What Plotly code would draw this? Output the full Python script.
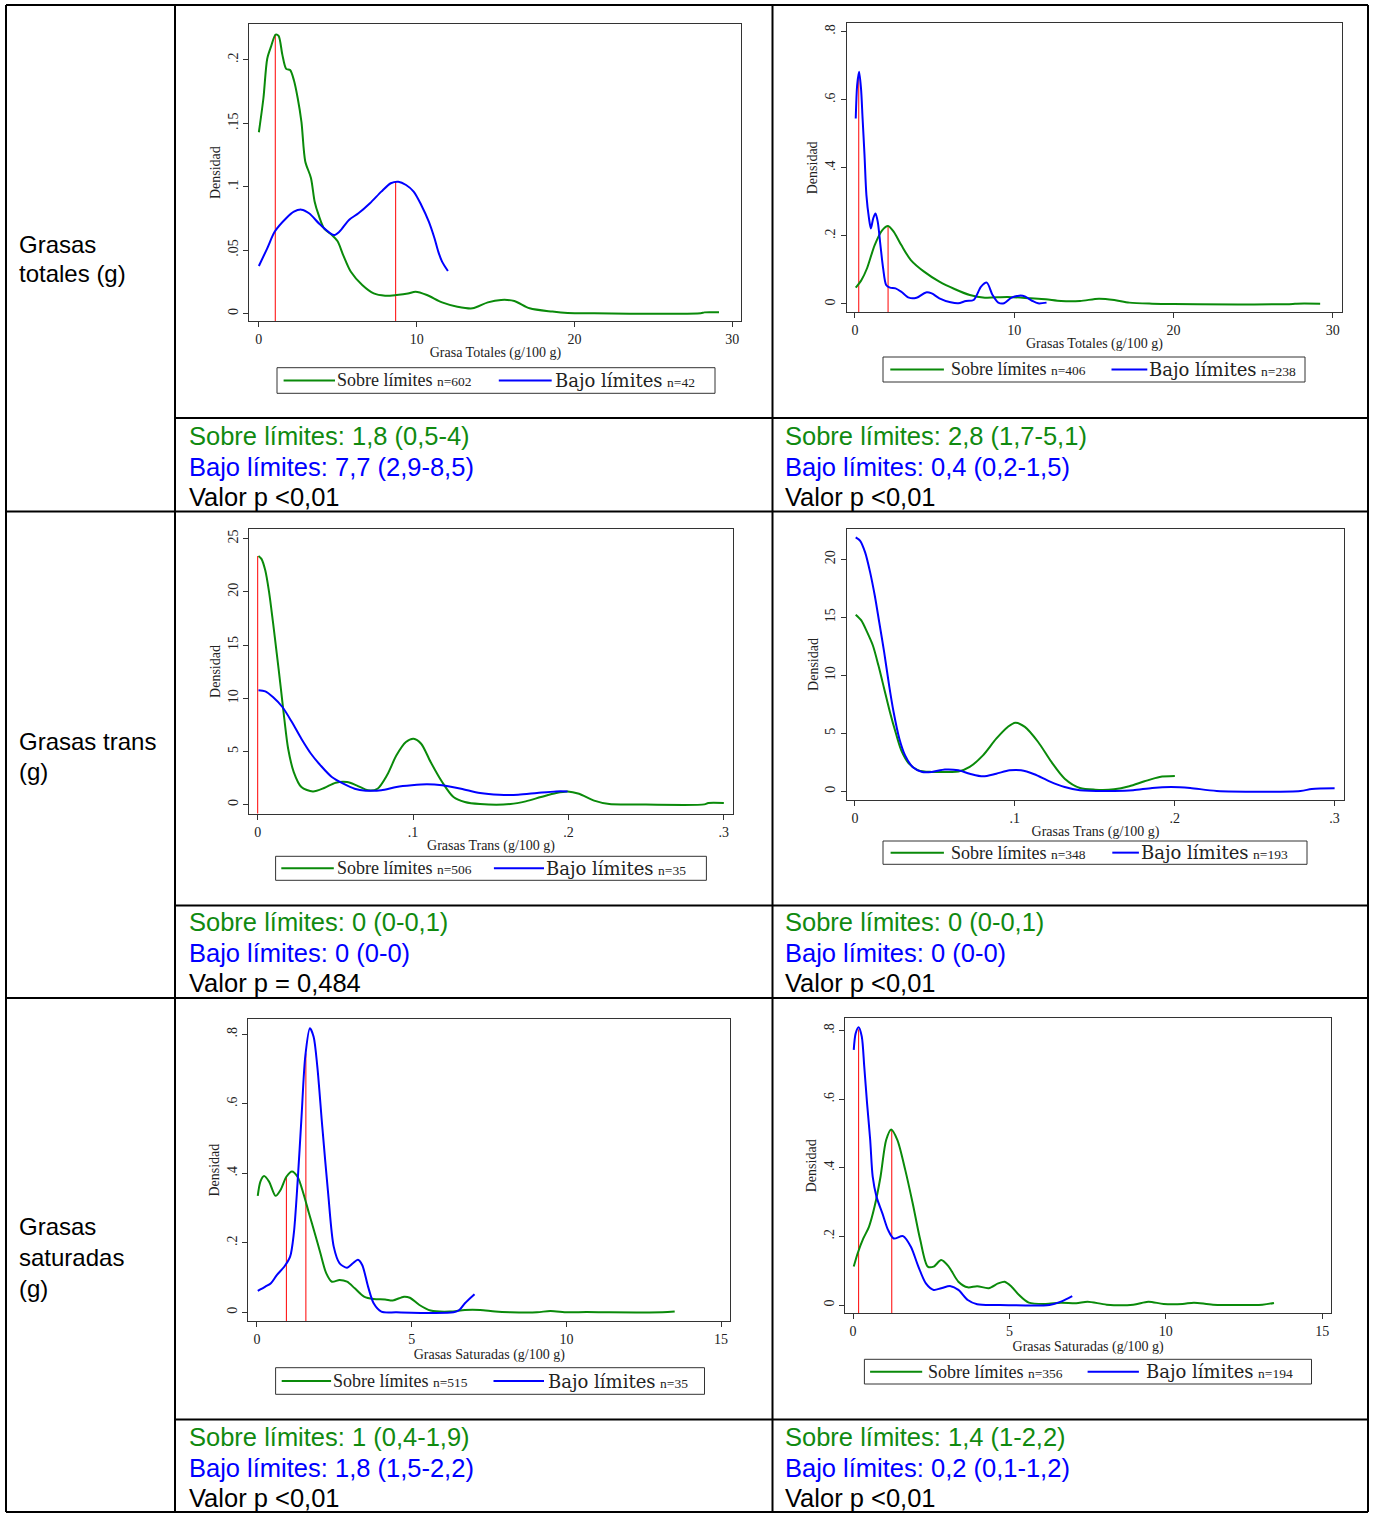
import plotly.graph_objects as go

W, H = 1374, 1514

# ---------------- DATA ----------------
# Panel 1: Grasas totales (left)
p1_sobre_x = [0, 0.29, 0.53, 0.77, 1.06, 1.25, 1.49, 1.73, 1.98, 2.22, 2.46, 2.70, 2.94, 3.30, 3.54, 3.78, 4.14, 4.63, 4.99, 5.35, 5.83, 6.55, 7.28, 8.0, 8.72, 9.45, 9.93, 10.65, 11.61, 12.58, 13.54, 14.51, 15.35, 16.19, 17.16, 18.60, 19.57, 21.25, 28.0, 28.24, 29.16]
p1_sobre_y = [0.143, 0.170, 0.201, 0.2105, 0.220, 0.219, 0.204, 0.193, 0.192, 0.184, 0.170, 0.151, 0.120, 0.107, 0.088, 0.078, 0.067, 0.062, 0.057, 0.046, 0.033, 0.0226, 0.016, 0.0142, 0.0147, 0.0158, 0.0173, 0.0147, 0.0089, 0.0055, 0.0042, 0.0089, 0.0108, 0.0100, 0.0042, 0.0016, 0.0005, 0.0003, 0.0003, 0.001, 0.001]
p1_bajo_x = [0, 0.53, 1.01, 1.73, 2.22, 2.70, 3.18, 3.90, 4.75, 5.11, 5.71, 6.31, 7.04, 7.76, 8.36, 8.84, 9.33, 9.81, 10.29, 10.77, 11.13, 11.37, 11.61, 11.98]
p1_bajo_y = [0.0376, 0.0515, 0.0647, 0.0752, 0.0804, 0.082, 0.0791, 0.070, 0.062, 0.0647, 0.0739, 0.0791, 0.087, 0.0962, 0.1028, 0.104, 0.1014, 0.0962, 0.0857, 0.0725, 0.0594, 0.0489, 0.041, 0.0336]
p1_ref_x = [1.04, 8.67]
p1_ref_top = [0.220, 0.104]

# Panel 2: Grasas totales (right)
p2_sobre_x = [0.05, 0.41, 0.76, 1.24, 1.72, 2.08, 2.43, 2.91, 3.51, 4.34, 5.30, 6.25, 7.21, 8.16, 9.59, 11.03, 11.98, 12.94, 14.13, 15.32, 16.28, 17.23, 18.66, 19.98, 27.5, 27.73, 29.21]
p2_sobre_y = [0.048, 0.0705, 0.105, 0.173, 0.217, 0.229, 0.2125, 0.173, 0.129, 0.095, 0.0656, 0.044, 0.0264, 0.0186, 0.0206, 0.0166, 0.0137, 0.0088, 0.0088, 0.0157, 0.0118, 0.004, 0.001, 0.0, 0.0, 0.001, 0.001]
p2_bajo_x = [0.05, 0.14, 0.26, 0.38, 0.48, 0.60, 0.72, 0.88, 1.0, 1.15, 1.29, 1.43, 1.60, 1.77, 1.96, 2.20, 2.55, 2.91, 3.39, 3.87, 4.46, 4.82, 5.30, 6.01, 6.49, 6.97, 7.45, 7.92, 8.28, 8.64, 9.0, 9.36, 9.83, 10.31, 10.67, 11.15, 11.50, 12.03]
p2_bajo_y = [0.545, 0.643, 0.682, 0.634, 0.545, 0.438, 0.320, 0.252, 0.222, 0.252, 0.266, 0.242, 0.173, 0.105, 0.056, 0.048, 0.046, 0.036, 0.0186, 0.0186, 0.034, 0.031, 0.0166, 0.0049, 0.002, 0.0088, 0.0118, 0.051, 0.0627, 0.0264, 0.004, 0.002, 0.0186, 0.0245, 0.0225, 0.0088, 0.002, 0.004]
p2_ref_x = [0.24, 2.08]
p2_ref_top = [0.668, 0.227]

# Panel 3: Grasas trans (left)
p3_sobre_x = [0.0005, 0.0024, 0.0049, 0.0073, 0.0098, 0.0122, 0.0147, 0.0171, 0.0196, 0.0232, 0.0281, 0.0355, 0.0428, 0.0502, 0.0575, 0.0636, 0.0710, 0.0771, 0.0832, 0.0893, 0.0954, 0.1003, 0.1052, 0.1113, 0.1187, 0.126, 0.1333, 0.1431, 0.1627, 0.1725, 0.1823, 0.1921, 0.1994, 0.2068, 0.2165, 0.2263, 0.241, 0.2875, 0.29, 0.30]
p3_sobre_y = [23.37, 23.1, 22.0, 20.0, 17.2, 14.3, 11.2, 8.1, 5.26, 3.07, 1.66, 1.25, 1.57, 2.07, 2.13, 1.82, 1.35, 1.5, 2.76, 4.64, 5.89, 6.20, 5.73, 4.01, 2.13, 0.72, 0.25, 0.06, 0.06, 0.31, 0.72, 1.10, 1.25, 1.03, 0.38, 0.06, 0.03, 0.03, 0.16, 0.16]
p3_bajo_x = [0.0005, 0.0049, 0.0098, 0.0159, 0.022, 0.0281, 0.0343, 0.0404, 0.0477, 0.0551, 0.0624, 0.0697, 0.0795, 0.0893, 0.0991, 0.1089, 0.1187, 0.1309, 0.1431, 0.1554, 0.1676, 0.1798, 0.192, 0.1994]
p3_bajo_y = [10.75, 10.65, 10.12, 9.18, 7.77, 6.20, 4.79, 3.70, 2.60, 1.97, 1.50, 1.32, 1.35, 1.66, 1.82, 1.91, 1.82, 1.50, 1.10, 0.94, 0.94, 1.10, 1.25, 1.25]
p3_ref_x = [0.0]
p3_ref_top = [23.37]

# Panel 4: Grasas trans (right)
p4_sobre_x = [0.0005, 0.004, 0.0076, 0.0112, 0.0147, 0.0183, 0.0219, 0.0254, 0.029, 0.0338, 0.0397, 0.048, 0.0575, 0.0647, 0.0718, 0.0801, 0.0884, 0.0956, 0.1003, 0.1063, 0.1146, 0.1229, 0.1312, 0.1407, 0.1502, 0.1621, 0.1716, 0.1811, 0.1906, 0.2001]
p4_sobre_y = [15.23, 14.74, 13.74, 12.59, 10.86, 8.85, 6.84, 5.11, 3.53, 2.39, 1.81, 1.67, 1.67, 1.70, 2.10, 3.10, 4.54, 5.55, 5.92, 5.55, 4.25, 2.53, 1.09, 0.29, 0.14, 0.17, 0.43, 0.86, 1.24, 1.32]
p4_bajo_x = [0.0005, 0.0033, 0.0064, 0.0095, 0.0124, 0.0152, 0.0183, 0.0214, 0.0242, 0.0278, 0.0314, 0.0361, 0.0421, 0.048, 0.0563, 0.0647, 0.0718, 0.0801, 0.0884, 0.0967, 0.1039, 0.1122, 0.1217, 0.1312, 0.1407, 0.1621, 0.174, 0.1859, 0.1978, 0.2097, 0.2263, 0.2786, 0.2857, 0.30]
p4_bajo_y = [21.9, 21.6, 20.6, 18.9, 16.9, 14.6, 12.0, 9.14, 6.84, 4.54, 3.10, 2.10, 1.67, 1.67, 1.87, 1.81, 1.52, 1.29, 1.52, 1.81, 1.81, 1.47, 0.86, 0.37, 0.09, 0.03, 0.09, 0.29, 0.37, 0.29, 0.03, 0.03, 0.20, 0.26]
p4_ref_x = []
p4_ref_top = []

# Panel 5: Grasas saturadas (left)
p5_sobre_x = [0.025, 0.11, 0.23, 0.39, 0.60, 0.76, 0.95, 1.13, 1.31, 1.50, 1.68, 1.87, 2.05, 2.24, 2.42, 2.67, 2.91, 3.16, 3.46, 3.77, 4.14, 4.39, 4.75, 4.94, 5.25, 5.61, 6.23, 6.72, 7.21, 7.70, 8.19, 9.05, 9.48, 10.04, 10.65, 11.39, 13.1, 13.5]
p5_sobre_y = [0.335, 0.376, 0.392, 0.376, 0.335, 0.352, 0.390, 0.405, 0.390, 0.342, 0.285, 0.227, 0.170, 0.112, 0.088, 0.093, 0.088, 0.069, 0.045, 0.038, 0.037, 0.034, 0.045, 0.042, 0.021, 0.005, 0.002, 0.007, 0.007, 0.002, 0.0, 0.0, 0.004, 0.0, 0.001, 0.0, 0.0, 0.002]
p5_bajo_x = [0.025, 0.27, 0.45, 0.64, 0.88, 1.07, 1.19, 1.31, 1.44, 1.56, 1.71, 1.83, 1.95, 2.11, 2.30, 2.48, 2.67, 2.91, 3.10, 3.26, 3.40, 3.59, 3.77, 4.02, 4.51, 6.35, 6.54, 6.72, 7.03]
p5_bajo_y = [0.0614, 0.0739, 0.0835, 0.107, 0.131, 0.160, 0.227, 0.371, 0.563, 0.736, 0.817, 0.793, 0.707, 0.534, 0.342, 0.189, 0.141, 0.1285, 0.141, 0.151, 0.136, 0.074, 0.026, 0.002, 0.0, 0.0, 0.0067, 0.026, 0.052]
p5_ref_x = [0.95, 1.58]
p5_ref_top = [0.39, 0.745]

# Panel 6: Grasas saturadas (right)
p6_sobre_x = [0.024, 0.15, 0.33, 0.51, 0.69, 0.88, 1.06, 1.22, 1.42, 1.67, 1.91, 2.15, 2.39, 2.58, 2.82, 3.06, 3.37, 3.67, 3.97, 4.34, 4.64, 4.85, 5.07, 5.31, 5.62, 6.16, 6.65, 7.14, 7.50, 8.11, 8.96, 9.44, 9.93, 10.54, 10.90, 11.51, 13.09, 13.46]
p6_sobre_y = [0.112, 0.151, 0.194, 0.228, 0.287, 0.374, 0.481, 0.512, 0.481, 0.394, 0.296, 0.190, 0.112, 0.112, 0.131, 0.112, 0.068, 0.0515, 0.055, 0.049, 0.063, 0.068, 0.0535, 0.029, 0.0068, 0.003, 0.0068, 0.005, 0.0097, 0.001, 0.001, 0.0097, 0.003, 0.003, 0.0068, 0.001, 0.001, 0.006]
p6_bajo_x = [0.024, 0.085, 0.18, 0.28, 0.36, 0.45, 0.55, 0.63, 0.75, 0.94, 1.12, 1.30, 1.60, 1.85, 2.09, 2.33, 2.58, 2.82, 3.12, 3.37, 3.67, 3.97, 4.70, 6.28, 6.65, 7.01]
p6_bajo_y = [0.744, 0.792, 0.810, 0.783, 0.695, 0.588, 0.481, 0.374, 0.316, 0.267, 0.219, 0.194, 0.201, 0.170, 0.112, 0.063, 0.044, 0.049, 0.055, 0.044, 0.0146, 0.002, 0.0, 0.0, 0.0097, 0.026]
p6_ref_x = [0.18, 1.24]
p6_ref_top = [0.804, 0.51]

# sample sizes for legends
n_sobre = [602, 406, 506, 348, 515, 356]
n_bajo = [42, 238, 35, 193, 35, 194]

# axis titles and tick labels
x_titles = ["Grasa Totales (g/100 g)", "Grasas Totales (g/100 g)",
            "Grasas Trans (g/100 g)", "Grasas Trans (g/100 g)",
            "Grasas Saturadas (g/100 g)", "Grasas Saturadas (g/100 g)"]
x_tickvals = [[0, 10, 20, 30], [0, 10, 20, 30], [0, 0.1, 0.2, 0.3], [0, 0.1, 0.2, 0.3], [0, 5, 10, 15], [0, 5, 10, 15]]
x_ticktext = [["0", "10", "20", "30"], ["0", "10", "20", "30"], ["0", ".1", ".2", ".3"], ["0", ".1", ".2", ".3"], ["0", "5", "10", "15"], ["0", "5", "10", "15"]]
y_tickvals = [[0, 0.05, 0.1, 0.15, 0.2], [0, 0.2, 0.4, 0.6, 0.8], [0, 5, 10, 15, 20, 25], [0, 5, 10, 15, 20], [0, 0.2, 0.4, 0.6, 0.8], [0, 0.2, 0.4, 0.6, 0.8]]
y_ticktext = [["0", ".05", ".1", ".15", ".2"], ["0", ".2", ".4", ".6", ".8"], ["0", "5", "10", "15", "20", "25"], ["0", "5", "10", "15", "20"], ["0", ".2", ".4", ".6", ".8"], ["0", ".2", ".4", ".6", ".8"]]

# table texts
row_labels = [["Grasas", "totales (g)"], ["Grasas trans", "(g)"], ["Grasas", "saturadas", "(g)"]]
stats_sobre = ["1,8 (0,5-4)", "2,8 (1,7-5,1)", "0 (0-0,1)", "0 (0-0,1)", "1 (0,4-1,9)", "1,4 (1-2,2)"]
stats_bajo = ["7,7 (2,9-8,5)", "0,4 (0,2-1,5)", "0 (0-0)", "0 (0-0)", "1,8 (1,5-2,2)", "0,2 (0,1-1,2)"]
stats_p = ["<0,01", "<0,01", "= 0,484", "<0,01", "<0,01", "<0,01"]

# ---------------- STYLE / LAYOUT ----------------
GREEN = "#0a8a0a"
BLUE = "#0000ff"
RED = "#ff0000"
FRAME = "#333333"
TXT_GREEN = "#108a10"
TXT_BLUE = "#0000ff"
SERIF = "Liberation Serif"
SANS = "Liberation Sans"


def px(x):
    return x / W


def py(y):
    return 1 - y / H


# plot frames in window pixels (x0, x1, y_top, y_bottom), axis ranges, legend geometry
panels = [
    dict(frame=(249.4, 741.4, 24.3, 321.0), xr=[-0.6, 30.58], yr=[-0.0058, 0.2281],
         box=(277, 715, 367.7, 393.3), l1=(283.6, 335.0), t1=337.6, l2=(498.8, 551.7), t2=555.5),
    dict(frame=(846.5, 1342.3, 23.3, 312.3), xr=[-0.53, 30.6], yr=[-0.0244, 0.8246],
         box=(883, 1305, 357.0, 382.0), l1=(890.3, 943.9), t1=951.5, l2=(1111.5, 1147.3), t2=1150.3),
    dict(frame=(249.4, 732.7, 529.3, 813.7), xr=[-0.00534, 0.3057], yr=[-0.846, 25.88],
         box=(275.6, 706.4, 856.3, 880.3), l1=(281.3, 333.8), t1=337.6, l2=(493.9, 544.0), t2=546.7),
    dict(frame=(846.9, 1344.2, 529.3, 799.7), xr=[-0.005, 0.306], yr=[-0.724, 22.59],
         box=(883, 1307, 841.0, 864.3), l1=(890.6, 943.9), t1=951.5, l2=(1112.3, 1138.9), t2=1142.0),
    dict(frame=(248.2, 730.4, 1019.3, 1321.0), xr=[-0.284, 15.30], yr=[-0.025, 0.843],
         box=(275.6, 704.5, 1367.7, 1394.3), l1=(281.7, 331.1), t1=333.8, l2=(493.5, 544.0), t2=548.6),
    dict(frame=(845.4, 1330.9, 1018.3, 1313.3), xr=[-0.243, 15.28], yr=[-0.0242, 0.836],
         box=(864.4, 1311.5, 1359.3, 1384.0), l1=(870.1, 922.2), t1=928.7, l2=(1087.6, 1138.9), t2=1146.5),
]

series = [
    (p1_sobre_x, p1_sobre_y, p1_bajo_x, p1_bajo_y, p1_ref_x, p1_ref_top),
    (p2_sobre_x, p2_sobre_y, p2_bajo_x, p2_bajo_y, p2_ref_x, p2_ref_top),
    (p3_sobre_x, p3_sobre_y, p3_bajo_x, p3_bajo_y, p3_ref_x, p3_ref_top),
    (p4_sobre_x, p4_sobre_y, p4_bajo_x, p4_bajo_y, p4_ref_x, p4_ref_top),
    (p5_sobre_x, p5_sobre_y, p5_bajo_x, p5_bajo_y, p5_ref_x, p5_ref_top),
    (p6_sobre_x, p6_sobre_y, p6_bajo_x, p6_bajo_y, p6_ref_x, p6_ref_top),
]

fig = go.Figure()
layout = dict(
    width=W, height=H, autosize=False,
    margin=dict(l=0, r=0, t=0, b=0),
    paper_bgcolor="white", plot_bgcolor="white",
    showlegend=False,
)
shapes = []
annotations = []


def hline(xa, xb, y, w=2, color="black"):
    shapes.append(dict(type="line", xref="paper", yref="paper", x0=px(xa), x1=px(xb),
                       y0=py(y), y1=py(y), line=dict(color=color, width=w)))


def vline(x, ya, yb, w=2, color="black"):
    shapes.append(dict(type="line", xref="paper", yref="paper", x0=px(x), x1=px(x),
                       y0=py(ya), y1=py(yb), line=dict(color=color, width=w)))


def txt(x, y, s, color="black", size=24, family=SANS):
    annotations.append(dict(x=px(x), y=py(y), xref="paper", yref="paper", text=s,
                            showarrow=False, xanchor="left", yanchor="middle",
                            font=dict(family=family, size=size, color=color)))


for i, (p, s) in enumerate(zip(panels, series)):
    n = i + 1
    sfx = "" if n == 1 else str(n)
    xref, yref = "x" + sfx, "y" + sfx
    sx, sy, bx, by, rx, rtop = s

    # reference (median) lines
    if rx:
        lx, ly = [], []
        for xv, tv in zip(rx, rtop):
            lx += [xv, xv, None]
            ly += [p["yr"][0], tv, None]
        fig.add_trace(go.Scatter(x=lx, y=ly, mode="lines", line=dict(color=RED, width=1),
                                 xaxis=xref, yaxis=yref, hoverinfo="skip"))

    fig.add_trace(go.Scatter(
        x=sx, y=sy, mode="lines",
        line=dict(color=GREEN, width=2, shape="spline", smoothing=0.8),
        name="Sobre límites n=%d" % n_sobre[i], xaxis=xref, yaxis=yref))
    fig.add_trace(go.Scatter(
        x=bx, y=by, mode="lines",
        line=dict(color=BLUE, width=2, shape="spline", smoothing=0.8),
        name="Bajo límites n=%d" % n_bajo[i], xaxis=xref, yaxis=yref))

    x0, x1, y0, y1 = p["frame"]
    axis_common = dict(showline=True, mirror=True, linecolor=FRAME, linewidth=1,
                       ticks="outside", ticklen=5, tickcolor=FRAME, tickwidth=1,
                       showgrid=False, zeroline=False, fixedrange=True,
                       tickfont=dict(family=SERIF, size=14, color="#222222"))
    layout["xaxis" + sfx] = dict(
        axis_common, domain=[px(x0), px(x1)], range=p["xr"], anchor=yref,
        tickmode="array", tickvals=x_tickvals[i], ticktext=x_ticktext[i],
        title=dict(text=x_titles[i], font=dict(family=SERIF, size=14, color="#222222"), standoff=1))
    layout["yaxis" + sfx] = dict(
        axis_common, domain=[py(y1), py(y0)], range=p["yr"], anchor=xref,
        tickmode="array", tickvals=y_tickvals[i], ticktext=y_ticktext[i], tickangle=-90,
        title=dict(text="Densidad", font=dict(family=SERIF, size=14, color="#222222"), standoff=1))

    # legend (box, line keys and labels)
    bx0, bx1, by0, by1 = p["box"]
    shapes.append(dict(type="rect", xref="paper", yref="paper", x0=px(bx0), x1=px(bx1),
                       y0=py(by1), y1=py(by0), line=dict(color=FRAME, width=1),
                       fillcolor="white"))
    yc = (by0 + by1) / 2
    hline(p["l1"][0], p["l1"][1], yc, w=2, color=GREEN)
    hline(p["l2"][0], p["l2"][1], yc, w=2, color=BLUE)
    txt(p["t1"] - 3, yc, "Sobre límites <span style='font-size:13.5px'>n=%d</span>" % n_sobre[i],
        "#222222", 18, SERIF)
    txt(p["t2"] - 3, yc,
        "<span style='font-family:\"DejaVu Serif\";font-size:18px'>Bajo límites</span> "
        "<span style='font-size:13.5px'>n=%d</span>" % n_bajo[i],
        "#222222", 18, SERIF)

# ---------------- TABLE ----------------
L, R, T, B = 6, 1368, 5, 1512
hline(L, R, T); hline(L, R, B); vline(L, T, B); vline(R, T, B)
vline(175, T, B); vline(772.5, T, B)
hline(L, R, 511.5); hline(L, R, 998)
hline(175, R, 418); hline(175, R, 905.5); hline(175, R, 1419.5)

label_y = [[245, 273], [742, 771], [1226, 1257, 1288]]
for lines, ys in zip(row_labels, label_y):
    for s, yv in zip(lines, ys):
        txt(17, yv, s, size=24)

stat_rows_y = [(436, 467, 497), (922, 953, 983), (1437, 1468, 1498)]
for i in range(6):
    r, c = divmod(i, 2)
    xx = 187 if c == 0 else 783
    y_s, y_b, y_p = stat_rows_y[r]
    txt(xx, y_s, "Sobre límites: " + stats_sobre[i], TXT_GREEN, 25.5)
    txt(xx, y_b, "Bajo límites: " + stats_bajo[i], TXT_BLUE, 25.5)
    txt(xx, y_p, "Valor p " + stats_p[i], "black", 25.5)

layout["shapes"] = shapes
layout["annotations"] = annotations
fig.update_layout(**layout)
fig.write_html(
    "out.html",
    config={"displayModeBar": False, "staticPlot": True},
    post_script="document.body.style.margin='0';document.body.style.overflow='hidden';",
)
